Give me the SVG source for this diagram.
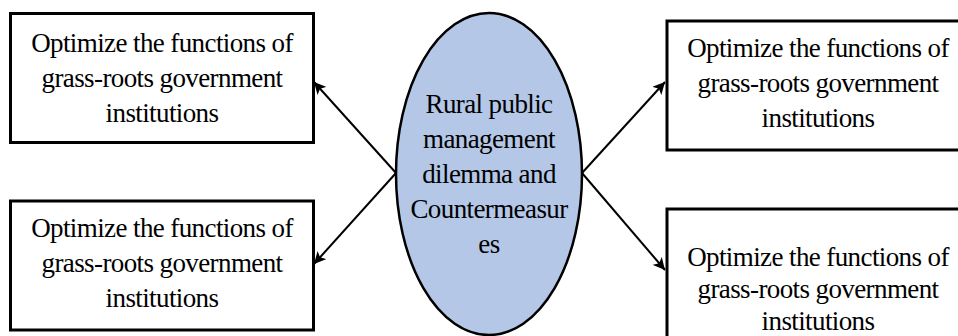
<svg xmlns="http://www.w3.org/2000/svg" width="958" height="336" viewBox="0 0 958 336">
<defs>
<marker id="ah" viewBox="0 0 10 10" refX="10" refY="5" markerWidth="6" markerHeight="6" orient="auto" markerUnits="strokeWidth">
<path d="M0,0 L10,5 L0,10 L2.5,5 Z" fill="#000"/>
</marker>
</defs>
<style>
.box{fill:#fff;stroke:#000;stroke-width:3}
.t{font-family:"Liberation Serif","Times New Roman",serif;font-size:27px;fill:#000;text-anchor:middle;letter-spacing:-0.6px}
.c{stroke:#000;stroke-width:2;fill:none;marker-end:url(#ah)}
</style>
<rect width="958" height="336" fill="#fff"/>
<g id="connectors">
<line class="c" x1="396" y1="173" x2="314" y2="82"/>
<line class="c" x1="396" y1="173" x2="314" y2="264"/>
<line class="c" x1="582" y1="173" x2="665" y2="82"/>
<line class="c" x1="582" y1="173" x2="665" y2="270"/>
</g>
<g id="center">
<ellipse cx="489" cy="174" rx="93" ry="161" fill="#b4c7e7" stroke="#000" stroke-width="2.5"/>
<text class="t" x="489" y="113">Rural public</text>
<text class="t" x="489" y="148">management</text>
<text class="t" x="489" y="183">dilemma and</text>
<text class="t" x="489" y="218">Countermeasur</text>
<text class="t" x="489" y="253">es</text>
</g>
<g id="box-tl">
<rect class="box" x="10.5" y="13.5" width="303" height="129"/>
<text class="t" x="162" y="52">Optimize the functions of</text>
<text class="t" x="162" y="87">grass-roots government</text>
<text class="t" x="162" y="122">institutions</text>
</g>
<g id="box-bl">
<rect class="box" x="10.5" y="201" width="303" height="129"/>
<text class="t" x="162" y="237">Optimize the functions of</text>
<text class="t" x="162" y="272">grass-roots government</text>
<text class="t" x="162" y="307">institutions</text>
</g>
<g id="box-tr">
<rect class="box" x="667" y="21" width="303" height="129"/>
<text class="t" x="818" y="57">Optimize the functions of</text>
<text class="t" x="818" y="92">grass-roots government</text>
<text class="t" x="818" y="127">institutions</text>
</g>
<g id="box-br">
<rect class="box" x="667" y="209" width="303" height="140"/>
<text class="t" x="818" y="266">Optimize the functions of</text>
<text class="t" x="818" y="298">grass-roots government</text>
<text class="t" x="818" y="330">institutions</text>
</g>
</svg>
